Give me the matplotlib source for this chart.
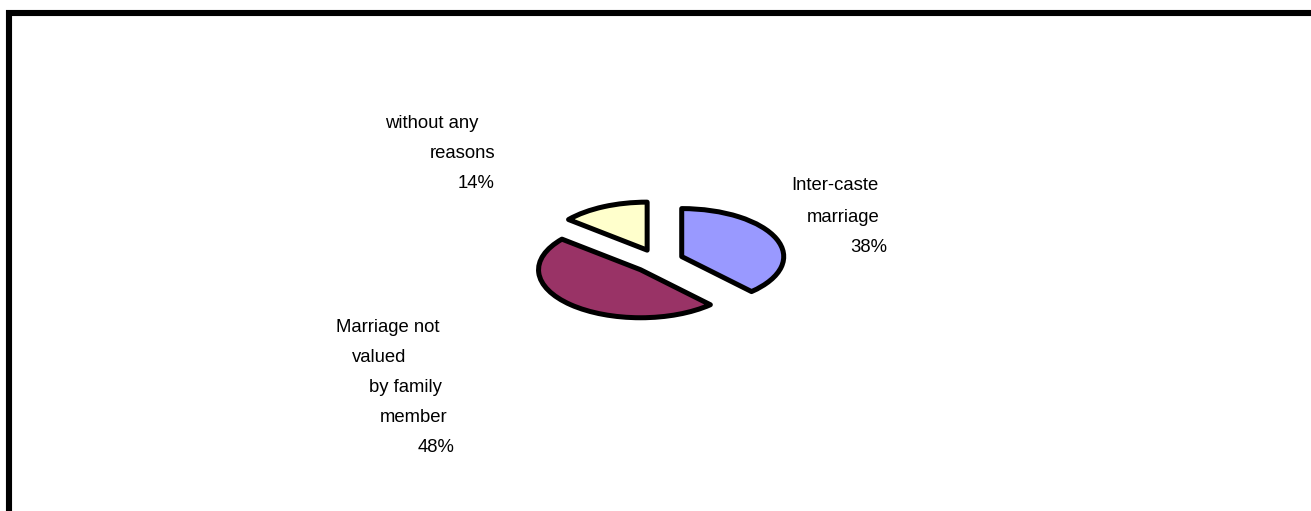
import matplotlib.pyplot as plt
from matplotlib.lines import Line2D

# data
labels = ['Inter-caste\nmarriage\n38%',
          'Marriage not\nvalued\nby family\nmember\n48%',
          'without any\nreasons\n14%']
values = [38, 48, 14]
colors = ['#9999FF', '#993366', '#FFFFCC']

W, H = 1311, 511
fig = plt.figure(figsize=(W / 100, H / 100), dpi=100)
fig.patch.set_facecolor('white')

# pie centre at (658, 261) px, ellipse radii 102 x 48 px
cx, cy, rx, ry = 658, 261, 102, 48
ax_w, ax_h = 6 * rx, 4 * ry
ax = fig.add_axes([(cx - ax_w / 2) / W, (H - cy - ax_h / 2) / H, ax_w / W, ax_h / H])
ax.pie(values, colors=colors, startangle=90, counterclock=False,
       explode=[0.25] * len(values),
       wedgeprops=dict(edgecolor='black', linewidth=3.6, joinstyle='round'))
ax.set_aspect('auto')
ax.set_xlim(-3, 3)
ax.set_ylim(-2, 2)
ax.axis('off')

# label lines are staggered like the original text boxes
line_pos = [
    [(791, 186), (807, 217), (850, 247)],
    [(336, 328), (352, 357), (369, 387), (380, 417), (418, 447)],
    [(385, 123), (430, 153), (458, 183)],
]
for lab, pos in zip(labels, line_pos):
    for txt, (x, y) in zip(lab.split('\n'), pos):
        fig.text(x / W, 1 - y / H, txt, ha='left', va='center',
                 fontsize=13.3, family='Liberation Sans', color='black')

# chart frame (only top and left edges are inside the image)
fig.add_artist(Line2D([9 / W, 9 / W, 1.01], [-0.01, 1 - 13 / H, 1 - 13 / H],
                      transform=fig.transFigure, color='black', linewidth=4.4,
                      solid_joinstyle='miter'))

fig.savefig('out.png', dpi=100)
